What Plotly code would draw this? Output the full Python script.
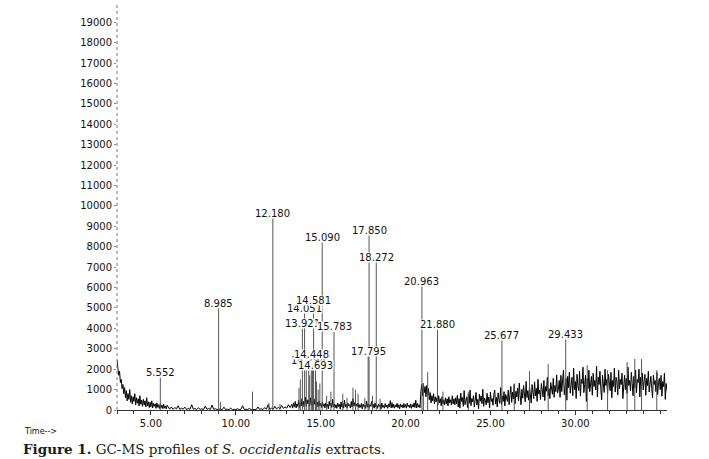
import plotly.graph_objects as go

# ---------------- data ----------------
# baseline noise (abundance); each segment starts at seg_starts[i] with spacing seg_steps[i] (min)
seg_starts = [3.0, 6.0, 13.3, 20.9, 23.0, 26.0, 29.0]
seg_steps = [0.05, 0.1, 0.05, 0.05, 0.05, 0.05, 0.05]
noise_a = [2450, 2100, 1700, 1900, 1350, 1500, 1050, 1250, 800, 1100,
           600, 950, 450, 800, 520, 1000, 380, 700, 300, 650,
           420, 800, 250, 600, 330, 550, 200, 700, 280, 480,
           180, 520, 240, 450, 150, 600, 200, 400, 120, 380,
           160, 450, 100, 330, 180, 300, 80, 350, 130, 260,
           70, 300, 110, 240, 60, 280, 90, 200, 50, 230]
noise_b = [180, 40, 150, 30, 120, 60, 210, 30, 90, 40,
           140, 20, 80, 30, 260, 40, 70, 20, 110, 30,
           60, 20, 190, 30, 80, 20, 240, 30, 60, 20,
           50, 30, 20, 140, 20, 40, 20, 90, 20, 30,
           20, 60, 20, 30, 210, 20, 40, 20, 80, 20,
           20, 40, 20, 150, 30, 60, 20, 120, 40, 260,
           30, 90, 40, 180, 50, 130, 60, 220, 80, 150,
           90, 260, 120]
noise_c = [280, 90, 350, 150, 420, 100, 300, 180, 480, 120,
           350, 200, 550, 150, 420, 260, 620, 180, 500, 300,
           480, 200, 600, 250, 420, 180, 550, 280, 420, 220,
           380, 150, 450, 200, 320, 120, 400, 180, 300, 100,
           350, 150, 280, 60, 420, 200, 330, 120, 520, 160,
           300, 110, 260, 80, 340, 170, 280, 40, 400, 150,
           320, 90, 480, 160, 280, 110, 350, 200, 260, 90,
           420, 150, 560, 200, 360, 120, 300, 180, 340, 100,
           260, 130, 320, 50, 280, 160, 240, 80, 440, 140,
           300, 120, 260, 180, 420, 110, 280, 90, 350, 150,
           240, 80, 300, 170, 260, 40, 350, 130, 220, 90,
           320, 140, 250, 80, 300, 160, 460, 100, 360, 120,
           280, 90, 240, 150, 330, 110, 260, 50, 300, 140,
           250, 100, 320, 130, 270, 90, 340, 160, 240, 110,
           300, 80, 260, 150, 350, 120, 480, 100, 320, 140,
           260, 110]
noise_d = [900, 1250, 700, 1300, 850, 1150, 650, 1200, 750, 1050,
           500, 850, 350, 700, 450, 800, 300, 650, 400, 600,
           250, 700, 350, 550, 200, 650, 300, 500, 250, 600,
           300, 550, 200, 650, 350, 500, 250, 700, 300, 550,
           250, 600]
noise_e = [300, 720, 150, 560, 90, 830, 420, 610, 180, 950,
           260, 500, 640, 120, 780, 330, 980, 210, 560, 400,
           700, 140, 620, 860, 250, 520, 60, 770, 430, 690,
           310, 1020, 180, 590, 470, 250, 820, 360, 640, 110,
           880, 420, 560, 230, 760, 980, 290, 620, 150, 840,
           500, 330, 1100, 270, 690, 420, 900, 200, 760, 560]
noise_f = [420, 980, 260, 760, 1150, 380, 870, 540, 1260, 300,
           920, 640, 1080, 450, 1320, 700, 260, 1010, 580, 1200,
           820, 390, 1400, 610, 950, 480, 1150, 760, 340, 1250,
           900, 560, 1380, 690, 1060, 420, 1500, 780, 980, 520,
           1300, 860, 640, 1450, 460, 1150, 920, 1600, 700, 1050,
           560, 1350, 980, 770, 1550, 620, 1200, 900, 1720, 830]
noise_g = [1000, 1450, 620, 1700, 900, 1300, 1950, 750, 1250, 1550,
           480, 1650, 1100, 1850, 820, 1350, 1600, 700, 2050, 1000,
           1400, 560, 1750, 1200, 950, 1900, 680, 1500, 1300, 2100,
           850, 1250, 1700, 420, 1550, 1050, 1950, 900, 1350, 1650,
           720, 1800, 1150, 1450, 980, 2150, 640, 1600, 1250, 1900,
           1050, 500, 1700, 1350, 860, 2000, 1200, 1500, 780, 1750,
           1300, 950, 1850, 600, 1450, 1150, 2050, 880, 1600, 1380,
           740, 1950, 1050, 1500, 1250, 1800, 560, 1400, 1700, 1000,
           1550, 820, 2100, 1200, 1450, 930, 1850, 1300, 700, 1650,
           1100, 1950, 850, 1500, 1350, 2000, 640, 1600, 1150, 1800,
           980, 1400, 1750, 720, 1550, 1200, 1900, 880, 1300, 1650,
           1050, 600, 1700, 1250, 1450, 900, 1850, 750, 1350, 1550,
           1000, 1700, 680, 1400, 1150, 1800, 520, 1300, 950]
noise_segments = [noise_a, noise_b, noise_c, noise_d, noise_e, noise_f, noise_g]

# labelled peaks
peak_times = [5.552, 8.985, 12.180, 13.921, 14.051, 14.294, 14.448, 14.581, 14.693, 15.090,
              15.783, 17.795, 17.850, 18.272, 20.963, 21.880, 25.677, 29.433]
peak_labels = ["5.552", "8.985", "12.180", "13.921", "14.051", "14.294", "14.448", "14.581",
               "14.693", "15.090", "15.783", "17.795", "17.850", "18.272", "20.963", "21.880",
               "25.677", "29.433"]
peak_heights = [1600, 5000, 9400, 4000, 4750, 2200, 2500, 5150, 1950, 8250,
                3850, 2650, 8600, 7250, 6100, 3950, 3450, 3500]

# unlabelled small peaks
minor_times = [9.10, 10.98, 11.95, 12.60, 13.72, 13.80, 14.15, 14.35, 14.52, 14.75, 14.85,
               14.95, 15.35, 15.60, 16.30, 16.55, 16.90, 17.05, 17.20, 17.60, 18.05, 18.50,
               21.05, 21.30, 22.20, 23.70, 26.40, 27.30, 28.40, 30.70, 31.90, 33.05, 33.50,
               33.90, 34.80]
minor_heights = [400, 900, 350, 300, 1070, 1500, 2000, 1700, 2300, 1400, 1000,
                 1300, 700, 900, 800, 600, 1100, 1000, 800, 600, 700, 550,
                 1300, 1850, 900, 900, 1300, 1900, 2250, 2200, 1950, 2350, 2500,
                 2500, 1950]

x_tick_vals = [5, 10, 15, 20, 25, 30]
x_tick_text = ["5.00", "10.00", "15.00", "20.00", "25.00", "30.00"]
y_tick_vals = list(range(0, 20000, 1000))
y_tick_text = [str(v) for v in y_tick_vals]

# ---------------- figure ----------------
noise_x, noise_y = [], []
for start, step, seg in zip(seg_starts, seg_steps, noise_segments):
    for i, v in enumerate(seg):
        noise_x.append(round(start + step * i, 3))
        noise_y.append(v)

px, py = [], []
for t, h in list(zip(minor_times, minor_heights)) + list(zip(peak_times, peak_heights)):
    px += [t, t, None]
    py += [0, h, None]

fig = go.Figure()
fig.add_trace(go.Scatter(x=noise_x, y=noise_y, mode="lines",
                         line=dict(color="#000000", width=1), hoverinfo="skip"))
fig.add_trace(go.Scatter(x=px, y=py, mode="lines",
                         line=dict(color="#555555", width=1), hoverinfo="skip"))

label_font = dict(family="DejaVu Sans", size=10, color="#111111")
for t, h, lab in zip(peak_times, peak_heights, peak_labels):
    fig.add_annotation(x=t, y=h, xref="x", yref="y", text=lab, showarrow=False,
                       xanchor="center", yanchor="bottom", yshift=-1,
                       height=9, valign="middle",
                       font=label_font, bgcolor="white", borderpad=0)

# dotted y axis line
fig.add_shape(type="line", xref="paper", yref="paper", x0=0, x1=0, y0=0, y1=1,
              line=dict(color="#777777", width=1, dash="dot"))

fig.add_annotation(xref="paper", yref="paper", x=-0.1727, y=-0.054, text="Time-->",
                   showarrow=False, xanchor="left", yanchor="middle",
                   font=dict(family="DejaVu Sans", size=8, color="#111111"))
fig.add_annotation(xref="paper", yref="paper", x=-0.1745, y=-0.096,
                   text="<b>Figure 1.</b> GC-MS profiles of <i>S. occidentalis</i> extracts.",
                   showarrow=False, xanchor="left", yanchor="middle",
                   font=dict(family="DejaVu Serif", size=13.5, color="#1a1a1a"))

fig.update_layout(
    width=709, height=459,
    margin=dict(l=117, r=42, t=3, b=49),
    paper_bgcolor="white", plot_bgcolor="white",
    showlegend=False,
    xaxis=dict(range=[3.0, 35.4], tickvals=x_tick_vals, ticktext=x_tick_text,
               ticks="outside", ticklen=4, tickcolor="#333333",
               minor=dict(dtick=1, ticks="outside", ticklen=3, tickcolor="#333333"),
               showline=True, linecolor="#333333", linewidth=1,
               showgrid=False, zeroline=False,
               tickfont=dict(family="DejaVu Sans", size=10, color="#111111")),
    yaxis=dict(range=[0, 19950], tickvals=y_tick_vals, ticktext=y_tick_text,
               ticks="outside", ticklen=2, tickcolor="#888888",
               showline=False, showgrid=False, zeroline=False,
               tickfont=dict(family="DejaVu Sans", size=10, color="#111111")),
)

fig.write_html("out.html")
